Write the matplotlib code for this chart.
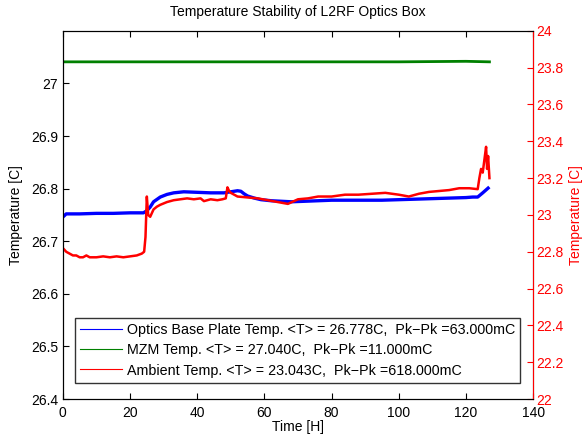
import matplotlib
matplotlib.use('Agg')
import matplotlib.pyplot as plt
from matplotlib.lines import Line2D

plt.rcParams['font.family'] = ['Liberation Sans', 'DejaVu Sans']

# Optics base plate (left axis)
t_base = [0, 1, 5, 10, 15, 20, 24, 25, 26, 27, 29, 31, 33, 36, 40, 44, 48, 50, 52, 53, 54, 55,
          57, 59, 62, 65, 68, 72, 76, 80, 85, 90, 95, 100, 105, 110, 115, 120, 122, 123.5, 125, 126.6]
T_base = [26.746, 26.752, 26.752, 26.753, 26.753, 26.754, 26.754, 26.758, 26.765, 26.775, 26.784,
          26.789, 26.792, 26.794, 26.793, 26.792, 26.792, 26.794, 26.796, 26.795, 26.790, 26.786,
          26.782, 26.779, 26.777, 26.776, 26.775, 26.776, 26.777, 26.778, 26.778, 26.778, 26.778,
          26.779, 26.780, 26.781, 26.782, 26.783, 26.784, 26.784, 26.792, 26.801]

# MZM (left axis)
t_mzm = [0, 20, 40, 60, 80, 100, 120, 127]
T_mzm = [27.041, 27.041, 27.041, 27.041, 27.041, 27.041, 27.042, 27.041]

# Ambient (right axis)
t_amb = [0, 1, 2, 3, 4, 5, 6, 7, 8, 10, 12, 14, 16, 18, 20, 22, 23.5, 24.2, 24.6, 25, 25.4, 26,
         27, 28, 29, 31, 33, 35, 37, 39, 41, 42, 44, 46, 47.5, 48.5, 49, 49.5, 50, 52, 55, 58, 61,
         64, 67, 70, 73, 76, 80, 84, 88, 92, 96, 100, 103, 106, 109, 112, 115, 118, 121, 123.5,
         124, 124.5, 125, 125.5, 126, 126.3, 126.6, 127]
T_amb = [22.82, 22.80, 22.79, 22.78, 22.78, 22.77, 22.77, 22.78, 22.77, 22.77, 22.775, 22.77,
         22.775, 22.77, 22.775, 22.78, 22.79, 22.80, 22.88, 23.10, 23.00, 22.99, 23.03, 23.045,
         23.055, 23.07, 23.08, 23.085, 23.09, 23.085, 23.09, 23.075, 23.085, 23.08, 23.085, 23.09,
         23.15, 23.13, 23.12, 23.10, 23.095, 23.09, 23.08, 23.07, 23.06, 23.085, 23.09, 23.10,
         23.10, 23.11, 23.11, 23.115, 23.12, 23.11, 23.10, 23.115, 23.125, 23.13, 23.135, 23.145,
         23.145, 23.14, 23.20, 23.25, 23.23, 23.30, 23.37, 23.25, 23.32, 23.20]

labels = ['Optics Base Plate Temp. <T> = 26.778C,  Pk\u2212Pk =63.000mC',
          'MZM Temp. <T> = 27.040C,  Pk\u2212Pk =11.000mC',
          'Ambient Temp. <T> = 23.043C,  Pk\u2212Pk =618.000mC']

fig = plt.figure(figsize=(5.82, 4.4), dpi=100)
ax = fig.add_axes([0.108, 0.093, 0.808, 0.837])
ax.plot(t_base, T_base, color='#0000ff', lw=2.4)
ax.plot(t_mzm, T_mzm, color='#008000', lw=2.0)
ax.set_xlim(0, 140)
ax.set_ylim(26.4, 27.1)
ax.set_xticks(range(0, 141, 20))
ax.set_yticks([26.4, 26.5, 26.6, 26.7, 26.8, 26.9, 27.0])
ax.set_yticklabels(['26.4', '26.5', '26.6', '26.7', '26.8', '26.9', '27'])
ax.tick_params(direction='in', top=True, labelsize=10, length=4)
ax.tick_params(axis='x', pad=5)
ax.set_xlabel('Time [H]', fontsize=10, labelpad=0)
ax.set_ylabel('Temperature [C]', fontsize=10, labelpad=6)
ax.set_title('Temperature Stability of L2RF Optics Box', fontsize=10, pad=11)

ax2 = ax.twinx()
ax2.plot(t_amb, T_amb, color='#ff0000', lw=1.8)
ax2.set_ylim(22, 24)
ax2.set_yticks([22 + 0.2 * i for i in range(11)])
ax2.set_yticklabels(['22', '22.2', '22.4', '22.6', '22.8', '23', '23.2', '23.4', '23.6', '23.8', '24'])
ax2.tick_params(axis='y', direction='in', colors='#ff0000', labelsize=10, length=4, pad=2)
ax2.spines['right'].set_color('#ff0000')
ax2.set_ylabel('Temperature [C]', color='#ff0000', fontsize=10)

# legend lives on the twin axes so it sits above every line
handles = [Line2D([], [], color='#0000ff', lw=0.8),
           Line2D([], [], color='#008000', lw=0.8),
           Line2D([], [], color='#ff0000', lw=0.8)]
leg = ax2.legend(handles, labels, loc='lower left', bbox_to_anchor=(0.026, 0.045),
                 fontsize=10.3, frameon=True, fancybox=False, handlelength=2.9,
                 borderpad=0.35, labelspacing=0.45, handletextpad=0.35, borderaxespad=0)
leg.get_frame().set_edgecolor('black')
leg.get_frame().set_linewidth(1.0)

fig.savefig('out.png', dpi=100)
